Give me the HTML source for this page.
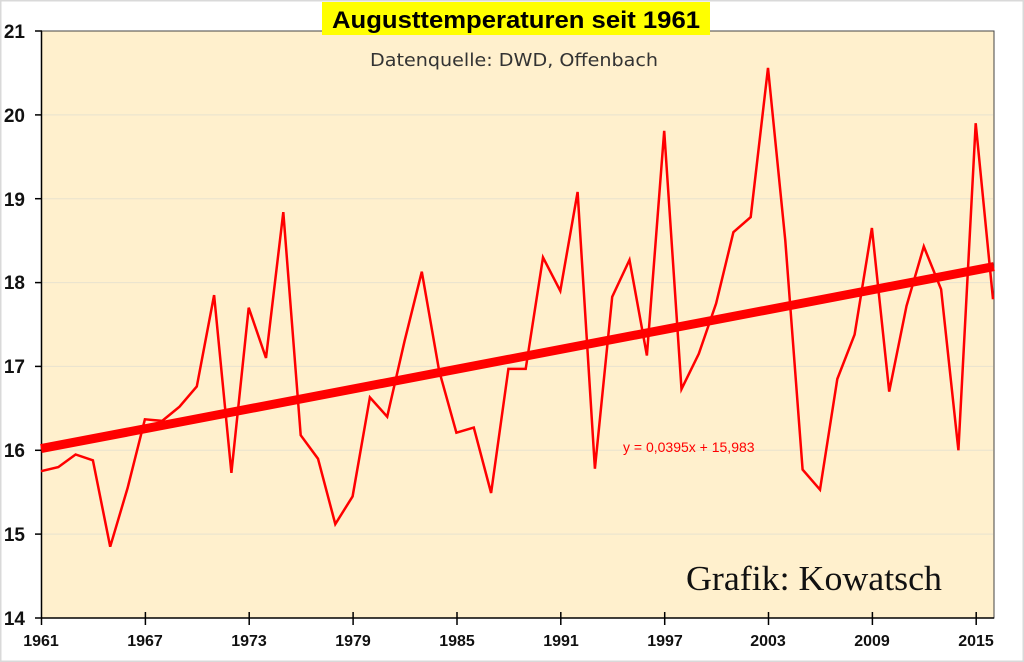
<!DOCTYPE html>
<html><head><meta charset="utf-8"><style>
body{margin:0;background:#fff}
svg{display:block}
</style></head><body>
<svg width="1024" height="662" viewBox="0 0 1024 662" xmlns="http://www.w3.org/2000/svg">
<rect x="0.5" y="0.5" width="1023" height="661" fill="#fff" stroke="#d9d9d9" stroke-width="2"/>
<rect x="41.5" y="31" width="952.5" height="587" fill="#fff0cd" stroke="#444" stroke-width="1"/>
<g stroke="#e8e2cf" stroke-width="1">
<line x1="42" x2="993" y1="534.1" y2="534.1"/><line x1="42" x2="993" y1="450.3" y2="450.3"/>
<line x1="42" x2="993" y1="366.4" y2="366.4"/><line x1="42" x2="993" y1="282.6" y2="282.6"/>
<line x1="42" x2="993" y1="198.7" y2="198.7"/><line x1="42" x2="993" y1="114.9" y2="114.9"/>
</g>
<g stroke="#000" stroke-width="1.5">
<line x1="41.5" y1="31" x2="41.5" y2="618"/><line x1="41.5" y1="618" x2="994" y2="618"/>
<line x1="35" x2="42" y1="31" y2="31"/><line x1="35" x2="42" y1="114.9" y2="114.9"/><line x1="35" x2="42" y1="198.7" y2="198.7"/><line x1="35" x2="42" y1="282.6" y2="282.6"/><line x1="35" x2="42" y1="366.4" y2="366.4"/><line x1="35" x2="42" y1="450.3" y2="450.3"/><line x1="35" x2="42" y1="534.1" y2="534.1"/><line x1="35" x2="42" y1="618" y2="618"/>
<line x1="41.5" x2="41.5" y1="618" y2="625"/><line x1="145.4" x2="145.4" y1="612" y2="625"/><line x1="249.2" x2="249.2" y1="612" y2="625"/><line x1="353.1" x2="353.1" y1="612" y2="625"/><line x1="457" x2="457" y1="612" y2="625"/><line x1="560.8" x2="560.8" y1="612" y2="625"/><line x1="664.7" x2="664.7" y1="612" y2="625"/><line x1="768.5" x2="768.5" y1="612" y2="625"/><line x1="872.4" x2="872.4" y1="612" y2="625"/><line x1="976.2" x2="976.2" y1="612" y2="625"/>
</g>
<g font-family="Liberation Sans, sans-serif" font-weight="bold" fill="#111">
<g text-anchor="end" font-size="19"><text x="25" y="38">21</text><text x="25" y="122">20</text><text x="25" y="206">19</text><text x="25" y="289">18</text><text x="25" y="373">17</text><text x="25" y="457">16</text><text x="25" y="541">15</text><text x="25" y="625">14</text></g>
<g text-anchor="middle" font-size="16"><text x="41" y="646">1961</text><text x="145" y="646">1967</text><text x="249" y="646">1973</text><text x="353" y="646">1979</text><text x="457" y="646">1985</text><text x="561" y="646">1991</text><text x="665" y="646">1997</text><text x="768" y="646">2003</text><text x="872" y="646">2009</text><text x="976" y="646">2015</text></g>
</g>
<polyline fill="none" stroke="#ff0000" stroke-width="2.5" stroke-linejoin="miter" points="41,471.2 58.3,467.1 75.6,454.5 92.9,460.3 110.2,546.7 127.6,488 144.9,419.3 162.2,420.9 179.5,406.7 196.8,386.5 214.1,295.1 231.4,472.9 248.7,307.7 266,358 283.3,212.1 300.7,435.2 318,458.7 335.3,524.1 352.6,496.4 369.9,397.4 387.2,416.7 404.5,341.3 421.8,271.7 439.1,370.6 456.4,432.7 473.8,427.6 491.1,493 508.4,368.9 525.7,368.9 543,257.4 560.3,290.9 577.6,192 594.9,468.7 612.2,296.8 629.5,259.9 646.9,355.5 664.2,130.8 681.5,389.1 698.8,353.8 716.1,303.5 733.4,232.2 750.7,217.1 768,67.9 785.3,240.6 802.6,469.6 820,489.7 837.3,379 854.6,334.6 871.9,228 889.2,391.6 906.5,306 923.8,246.5 941.1,289.3 958.4,450.3 975.7,123.2 993,299.3"/>
<line x1="41" y1="448.6" x2="994" y2="266.6" stroke="#ff0000" stroke-width="9"/>
<rect x="322" y="2" width="388" height="33" fill="#ffff00"/>
<text x="332" y="28" textLength="368" lengthAdjust="spacingAndGlyphs" font-family="Liberation Sans, sans-serif" font-weight="bold" font-size="24" fill="#000">Augusttemperaturen  seit 1961</text>
<text x="370" y="66" textLength="288" lengthAdjust="spacingAndGlyphs" font-family="DejaVu Sans, sans-serif" font-size="18" fill="#333">Datenquelle: DWD, Offenbach</text>
<text x="623" y="452" font-family="Liberation Sans, sans-serif" font-size="14" fill="#ff0000">y = 0,0395x + 15,983</text>
<text x="686" y="590" textLength="256" lengthAdjust="spacingAndGlyphs" font-family="Liberation Serif, serif" font-size="35" fill="#111">Grafik: Kowatsch</text>
</svg>
</body></html>
